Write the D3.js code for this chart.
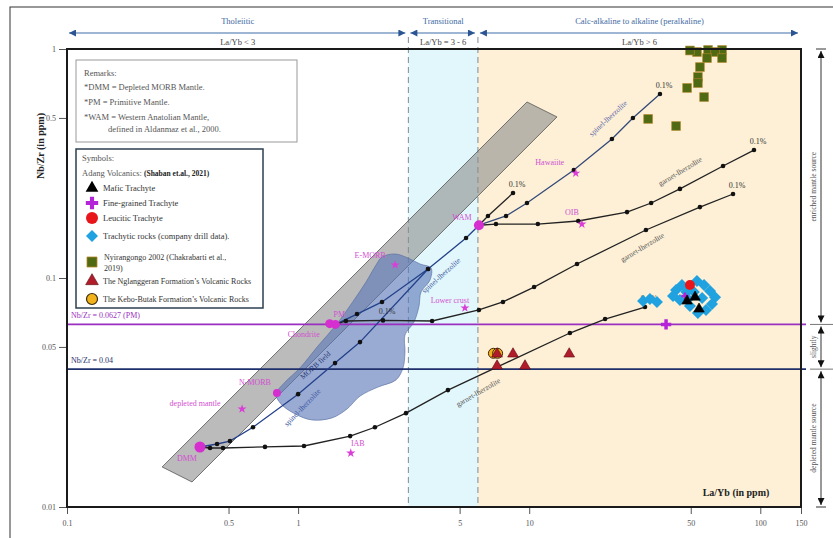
<!DOCTYPE html>
<html><head><meta charset="utf-8">
<script src="https://cdn.jsdelivr.net/npm/d3@7"></script>
<style>
body{margin:0;background:#fff;}
svg{display:block;font-family:"Liberation Serif","Times New Roman",serif;}
</style></head><body>
<svg id="chart" width="833" height="538"></svg>
<script>
// ---------- data (La/Yb, Nb/Zr) ----------
const xTicks = [0.1, 0.5, 1, 5, 10, 50, 100, 150];
const yTicks = [0.01, 0.05, 0.1, 0.5, 1];

const regimes = [
  {name: "Tholeiitic", rule: "La/Yb < 3", from: 0.1, to: 3},
  {name: "Transitional", rule: "La/Yb = 3 - 6", from: 3, to: 6},
  {name: "Calc-alkaline to alkaline (peralkaline)", rule: "La/Yb > 6", from: 6, to: 150}
];
const sourceZones = [
  {name: "enriched mantle source", from: 0.0627, to: 1},
  {name: "slightly", from: 0.04, to: 0.0627},
  {name: "depleted mantle source", from: 0.01, to: 0.04}
];
const refLines = [
  {value: 0.0627, label: "Nb/Zr = 0.0627 (PM)"},
  {value: 0.04, label: "Nb/Zr = 0.04"}
];

// MORB–OIB array band and MORB field outline
const arrayBand = [[0.258, 0.01496], [0.3475, 0.01286], [13.19, 0.505], [9.78, 0.587]];
const morbField = [
  [2.174, 0.114], [2.307, 0.1235], [2.627, 0.1273], [2.989, 0.1223], [3.37, 0.1151],
  [3.76, 0.1106], [3.722, 0.098], [3.403, 0.0869], [3.336, 0.0754], [3.173, 0.0642],
  [2.901, 0.0564], [2.901, 0.0475], [2.844, 0.0405], [2.653, 0.0359], [2.217, 0.0334],
  [1.853, 0.0305], [1.628, 0.0268], [1.402, 0.0245], [1.148, 0.024], [0.9696, 0.0255],
  [0.8433, 0.0282], [0.8027, 0.0311], [0.8778, 0.0351], [1.019, 0.0405], [1.219, 0.0505],
  [1.459, 0.0623], [1.711, 0.0778], [1.967, 0.096]
];

// reference compositions
const refPoints = [
  {name: "DMM", la: 0.376, nb: 0.01828, mark: "dot"},
  {name: "depleted mantle", la: 0.572, nb: 0.0268, mark: "star"},
  {name: "N-MORB", la: 0.81, nb: 0.0315, mark: "dot"},
  {name: "IAB", la: 1.69, nb: 0.0172, mark: "star"},
  {name: "Chondrite", la: 1.37, nb: 0.0632, mark: "dot"},
  {name: "PM", la: 1.45, nb: 0.0627, mark: "dot"},
  {name: "E-MORB", la: 2.63, nb: 0.114, mark: "star"},
  {name: "Lower crust", la: 5.27, nb: 0.074, mark: "star"},
  {name: "WAM", la: 6.06, nb: 0.170, mark: "dot"},
  {name: "Hawaiite", la: 15.9, nb: 0.287, mark: "star"},
  {name: "OIB", la: 16.9, nb: 0.172, mark: "star"}
];

// melting curves
const curveDmmSpinel = [[0.376, 0.01828], [0.446, 0.01884], [0.507, 0.0194], [0.638, 0.0223], [1.0, 0.0311], [1.445, 0.0425], [1.853, 0.0525], [3.65, 0.1094]];
const curvePmSpinel = [[1.45, 0.0627], [1.798, 0.0696], [2.307, 0.0786], [3.65, 0.1094], [5.33, 0.1495], [6.06, 0.170]];
const curveWamSpinel = [[6.06, 0.170], [7.94, 0.1866], [9.78, 0.2126], [15.6, 0.2962], [22.8, 0.4045], [28.1, 0.4995], [36.8, 0.636]];
const curveWamShort = [[6.06, 0.170], [6.63, 0.1866], [8.51, 0.235]];
const curveWamGarnet = [[6.06, 0.170], [7.18, 0.172], [10.9, 0.172], [16.3, 0.1774], [26.5, 0.194], [33.7, 0.2126], [44.9, 0.245], [69.0, 0.3084], [93.9, 0.362]];
const curvePmGarnet = [[1.45, 0.0627], [1.61, 0.0649], [2.33, 0.0653], [3.80, 0.0649], [6.06, 0.0725], [7.70, 0.0786], [10.5, 0.0913], [16.1, 0.1151], [32.0, 0.162], [54.8, 0.204], [76.2, 0.2327]];
const curveDmmGarnet = [[0.376, 0.01828], [0.416, 0.0181], [0.473, 0.0181], [0.719, 0.0183], [1.06, 0.01847], [1.68, 0.0204], [2.15, 0.0223], [2.93, 0.0257], [4.45, 0.0324], [15.0, 0.0575], [21.3, 0.0662], [31.7, 0.0747]];
const meltEnds = [[36.8, 0.636], [8.51, 0.235], [93.9, 0.362], [76.2, 0.2327], [2.33, 0.0653], [31.7, 0.0747]];

// samples
const mafic = [[48.2, 0.0793], [52.2, 0.0825], [54.3, 0.0732]];
const fineGrained = [[39.1, 0.0627], [47.2, 0.0834]];
const leucitic = [[49.6, 0.0932]];
const drill = [
  [31.1, 0.0793], [33.3, 0.0809], [35.7, 0.0785], [43.2, 0.0886], [45.8, 0.0932],
  [53.2, 0.097], [57.1, 0.0932], [60.6, 0.0877], [63.7, 0.0825], [61.8, 0.077],
  [58.2, 0.0725], [53.7, 0.0703], [49.6, 0.0754], [44.9, 0.0801], [41.9, 0.0834],
  [47.9, 0.0868], [51.6, 0.0868], [56.0, 0.0817], [48.7, 0.0809]
];
const nyiragongo = [
  [53.2, 0.97], [59.4, 0.99], [68.3, 0.99], [63.7, 0.97], [49.6, 0.985], [58.8, 0.913],
  [68.3, 0.913], [54.8, 0.834], [53.7, 0.755], [53.7, 0.71], [48.2, 0.676],
  [57.1, 0.617], [32.7, 0.495], [43.2, 0.461]
];
const nglanggeran = [[7.26, 0.0466], [8.51, 0.0466], [14.9, 0.0466], [7.26, 0.0413], [9.59, 0.0413]];
const keboButak = [[7.0, 0.0469], [7.3, 0.0469]];

// ---------- drawing ----------
const svg = d3.select("#chart");
const x = d3.scaleLog().domain([0.1, 150]).range([67, 801]);
const y = d3.scaleLog().domain([0.01, 1]).range([507, 49]);
const P = d => [x(d[0]), y(d[1])];
const magenta = "#d24fd2";
const navy = "#23418a";

const defs = svg.append("defs");
function arrowMarker(id, color, w, h) {
  defs.append("marker").attr("id", id).attr("viewBox", "0 0 10 10")
    .attr("refX", 10).attr("refY", 5).attr("markerWidth", w).attr("markerHeight", h)
    .attr("markerUnits", "userSpaceOnUse").attr("orient", "auto-start-reverse")
    .append("path").attr("d", "M0,0L10,5L0,10Z").attr("fill", color);
}
arrowMarker("hdr", "#2a5592", 9, 7);
arrowMarker("blk", "#111", 8, 7);
defs.append("clipPath").attr("id", "plotclip").append("rect")
  .attr("x", 67).attr("y", 49).attr("width", 734).attr("height", 458);

// outer frame
svg.append("rect").attr("x", 10).attr("y", 7).attr("width", 900).attr("height", 600)
  .attr("fill", "none").attr("stroke", "#333").attr("stroke-width", 1);

// regime shading
svg.append("rect").attr("x", x(3)).attr("y", y(1)).attr("width", x(6) - x(3)).attr("height", y(0.01) - y(1)).attr("fill", "#e2f7fb");
svg.append("rect").attr("x", x(6)).attr("y", y(1)).attr("width", x(150) - x(6)).attr("height", y(0.01) - y(1)).attr("fill", "#fdf0d6");

// header
regimes.forEach(r => {
  const x0 = x(r.from), x1 = x(r.to), cx = (x0 + x1) / 2;
  svg.append("line").attr("x1", x0 + 2).attr("x2", x1 - 3).attr("y1", 33).attr("y2", 33)
    .attr("stroke", "#3e6fa8").attr("stroke-width", 1.2)
    .attr("marker-start", "url(#hdr)").attr("marker-end", "url(#hdr)");
  svg.append("text").attr("x", cx).attr("y", 24).attr("text-anchor", "middle")
    .attr("font-size", 8.5).attr("fill", "#3f6aa3").text(r.name);
  svg.append("text").attr("x", cx).attr("y", 45).attr("text-anchor", "middle")
    .attr("font-size", 8.5).attr("fill", "#444").text(r.rule);
});

// boundary dashed lines
[3, 6].forEach(v => {
  svg.append("line").attr("x1", x(v)).attr("x2", x(v)).attr("y1", 37).attr("y2", y(0.01))
    .attr("stroke", "#7d8c96").attr("stroke-width", 1).attr("stroke-dasharray", "6,4");
});

const plot = svg.append("g").attr("clip-path", "url(#plotclip)");

// array band and MORB field
plot.append("path").attr("d", d3.line()(arrayBand.map(P)) + "Z")
  .attr("fill", "#8a8a8a").attr("fill-opacity", 0.58).attr("stroke", "#555").attr("stroke-width", 0.8);
plot.append("path").attr("d", d3.line().curve(d3.curveCatmullRomClosed)(morbField.map(P)))
  .attr("fill", "#5a78b8").attr("fill-opacity", 0.62).attr("stroke", "#50689e").attr("stroke-width", 0.6);

// reference lines
const refColors = ["#9a2fc0", "#1f2f6b"];
refLines.forEach((r, i) => {
  svg.append("line").attr("x1", x(0.1)).attr("x2", 806).attr("y1", y(r.value)).attr("y2", y(r.value))
    .attr("stroke", refColors[i]).attr("stroke-width", 1.8);
  svg.append("text").attr("x", x(0.1) + 4).attr("y", y(r.value) - 6).attr("font-size", 8)
    .attr("fill", refColors[i]).text(r.label);
});

// melting curves
const lineGen = d3.line().x(d => x(d[0])).y(d => y(d[1]));
const curves = [
  {data: curveDmmSpinel, color: navy},
  {data: curvePmSpinel, color: navy},
  {data: curveWamSpinel, color: "#34497a"},
  {data: curveWamShort, color: "#222"},
  {data: curveWamGarnet, color: "#222"},
  {data: curvePmGarnet, color: "#222"},
  {data: curveDmmGarnet, color: "#222"}
];
curves.forEach(c => {
  svg.append("path").attr("d", lineGen(c.data)).attr("fill", "none")
    .attr("stroke", c.color).attr("stroke-width", 1.3);
  svg.selectAll(null).data(c.data.slice(1)).enter().append("circle")
    .attr("cx", d => x(d[0])).attr("cy", d => y(d[1])).attr("r", 2.3).attr("fill", "#111");
});
meltEnds.forEach(d => {
  svg.append("text").attr("x", x(d[0]) + 4).attr("y", y(d[1]) - 6).attr("font-size", 8)
    .attr("text-anchor", "middle").attr("fill", "#333").text("0.1%");
});

// curve labels
const curveLabels = [
  {text: "spinel-lherzolite", at: [21.9, 0.4995], angle: -43, color: "#5a64a8"},
  {text: "garnet-lherzolite", at: [44.9, 0.2933], angle: -31, color: "#555"},
  {text: "garnet-lherzolite", at: [30.8, 0.1366], angle: -31, color: "#555"},
  {text: "garnet-lherzolite", at: [6.0, 0.0318], angle: -30, color: "#555"},
  {text: "spinel-lherzolite", at: [4.15, 0.103], angle: -42, color: "#3a55a0"},
  {text: "MORB field", at: [1.184, 0.0417], angle: -42, color: "#26336e"},
  {text: "spinel-lherzolite", at: [1.04, 0.0273], angle: -46, color: "#3a55a0"}
];
curveLabels.forEach(l => {
  svg.append("text").attr("transform", `translate(${x(l.at[0])},${y(l.at[1])}) rotate(${l.angle})`)
    .attr("text-anchor", "middle").attr("dy", 3).attr("font-size", 7.5).attr("fill", l.color).text(l.text);
});

// reference compositions
const labelOffset = {
  "DMM": [-13, 14], "depleted mantle": [-47, -3], "N-MORB": [-22, -8], "IAB": [7, -7],
  "Chondrite": [-26, 13], "PM": [4, -7], "E-MORB": [-25, -7], "Lower crust": [-15, -5],
  "WAM": [-17, -5], "Hawaiite": [-26, -8], "OIB": [-10, -9]
};
const dotR = {"DMM": 5.5, "N-MORB": 4, "Chondrite": 4.5, "PM": 4.5, "WAM": 5};
refPoints.forEach(p => {
  const px = x(p.la), py = y(p.nb);
  if (p.mark === "dot") {
    svg.append("circle").attr("cx", px).attr("cy", py).attr("r", dotR[p.name]).attr("fill", "#d62fd0");
  } else {
    svg.append("path").attr("d", d3.symbol(d3.symbolStar, 26)()).attr("transform", `translate(${px},${py})`)
      .attr("fill", "#d93fd6");
  }
  const o = labelOffset[p.name];
  svg.append("text").attr("x", px + o[0]).attr("y", py + o[1]).attr("text-anchor", "middle")
    .attr("font-size", 8).attr("fill", magenta).text(p.name);
});

// sample symbols
const sym = {
  triangle: s => d3.symbol(d3.symbolTriangle, s)(),
  cross: s => d3.symbol(d3.symbolCross, s)(),
  square: s => d3.symbol(d3.symbolSquare, s)()
};
function drawTri(g, data, size, fill, stroke) {
  g.selectAll(null).data(data).enter().append("path").attr("d", sym.triangle(size))
    .attr("transform", d => `translate(${x(d[0])},${y(d[1])})`)
    .attr("fill", fill).attr("stroke", stroke).attr("stroke-width", 0.6);
}
const samples = svg.append("g");
samples.selectAll(null).data(drill).enter().append("path").attr("d", sym.square(72))
  .attr("transform", d => `translate(${x(d[0])},${y(d[1])}) rotate(45)`).attr("fill", "#1fa2df");
samples.selectAll(null).data(leucitic).enter().append("circle")
  .attr("cx", d => x(d[0])).attr("cy", d => y(d[1])).attr("r", 5).attr("fill", "#e8161b");
samples.selectAll(null).data(fineGrained).enter().append("path").attr("d", (d, i) => sym.cross(i === 0 ? 60 : 30))
  .attr("transform", d => `translate(${x(d[0])},${y(d[1])})`).attr("fill", "#b424d8");
drawTri(samples, mafic, 48, "#000", "#000");
samples.selectAll(null).data(keboButak).enter().append("circle")
  .attr("cx", d => x(d[0])).attr("cy", d => y(d[1])).attr("r", 5)
  .attr("fill", "#f2b21c").attr("stroke", "#3a2a10").attr("stroke-width", 1);
drawTri(samples, nglanggeran, 50, "#b01c2a", "#5a0c10");
samples.selectAll(null).data(nyiragongo).enter().append("path").attr("d", sym.square(78))
  .attr("transform", d => `translate(${x(d[0])},${y(d[1])})`)
  .attr("fill", "#4f6a12").attr("stroke", "#b8862a").attr("stroke-width", 0.6);

// axes
const yAxis = svg.append("g").attr("transform", `translate(${x(0.1)},0)`)
  .call(d3.axisLeft(y).tickValues(yTicks).tickFormat(d3.format("~g")).tickSize(8).tickPadding(3));
const xAxis = svg.append("g").attr("transform", `translate(0,${y(0.01)})`)
  .call(d3.axisBottom(x).tickValues(xTicks).tickFormat(d3.format("~g")).tickSize(7).tickPadding(6));
[yAxis, xAxis].forEach(a => {
  a.select(".domain").remove();
  a.selectAll("line").attr("stroke", "#555");
  a.selectAll("text").attr("font-family", "Liberation Serif, serif").attr("font-size", 8).attr("fill", "#555");
});

// plot border
svg.append("rect").attr("x", x(0.1)).attr("y", y(1)).attr("width", x(150) - x(0.1)).attr("height", y(0.01) - y(1))
  .attr("fill", "none").attr("stroke", "#1a1a1a").attr("stroke-width", 2);

// axis titles
svg.append("text").attr("transform", "translate(44,146) rotate(-90)").attr("text-anchor", "middle")
  .attr("font-size", 10).attr("font-weight", "bold").attr("fill", "#222").text("Nb/Zr (in ppm)");
svg.append("text").attr("x", 736).attr("y", 496).attr("text-anchor", "middle")
  .attr("font-size", 10).attr("font-weight", "bold").attr("fill", "#222").text("La/Yb (in ppm)");

// source annotation on the right
const sx = 821;
sourceZones.forEach(z => {
  const ya = y(z.to), yb = y(z.from);
  svg.append("line").attr("x1", sx).attr("x2", sx).attr("y1", ya + 2).attr("y2", yb - 2)
    .attr("stroke", "#333").attr("stroke-width", 1)
    .attr("marker-start", "url(#blk)").attr("marker-end", "url(#blk)");
  svg.append("text").attr("transform", `translate(${sx - 5},${(ya + yb) / 2}) rotate(-90)`)
    .attr("text-anchor", "middle").attr("font-size", 7.5).attr("fill", "#555").text(z.name);
});
[1, 0.01].forEach(v => svg.append("line").attr("x1", sx - 5).attr("x2", sx + 5).attr("y1", y(v)).attr("y2", y(v)).attr("stroke", "#333"));
refLines.forEach(r => svg.append("line").attr("x1", sx - 11).attr("x2", 833).attr("y1", y(r.value)).attr("y2", y(r.value)).attr("stroke", "#777"));

// remarks box
const rem = svg.append("g");
rem.append("rect").attr("x", 76).attr("y", 60).attr("width", 221).attr("height", 82)
  .attr("fill", "#fff").attr("stroke", "#999").attr("stroke-width", 1);
const remarks = [
  ["Remarks:", 84, 76], ["*DMM = Depleted MORB Mantle.", 84, 90], ["*PM = Primitive Mantle.", 84, 105],
  ["*WAM = Western Anatolian Mantle,", 84, 120], ["defined in Aldanmaz et al., 2000.", 108, 132]
];
remarks.forEach(r => rem.append("text").attr("x", r[1]).attr("y", r[2]).attr("font-size", 8.5).attr("fill", "#555").text(r[0]));

// symbols legend
const leg = svg.append("g");
leg.append("rect").attr("x", 76).attr("y", 149).attr("width", 187).attr("height", 159)
  .attr("fill", "#fff").attr("stroke", "#2c3e50").attr("stroke-width", 1.5);
leg.append("text").attr("x", 82).attr("y", 161).attr("font-size", 8.5).attr("fill", "#555").text("Symbols:");
const adang = leg.append("text").attr("x", 82).attr("y", 176).attr("font-size", 8.5).attr("fill", "#555");
adang.append("tspan").text("Adang Volcanics: ");
adang.append("tspan").attr("font-size", 7.5).attr("font-weight", "bold").attr("fill", "#222").text("(Shaban et.al., 2021)");
const legendRows = [
  {label: "Mafic Trachyte", draw: g => g.append("path").attr("d", sym.triangle(70)).attr("fill", "#000")},
  {label: "Fine-grained Trachyte", draw: g => g.append("path").attr("d", sym.cross(85)).attr("fill", "#b424d8")},
  {label: "Leucitic Trachyte", draw: g => g.append("circle").attr("r", 6).attr("fill", "#e8161b")},
  {label: "Trachytic rocks (company drill data).", draw: g => g.append("path").attr("d", sym.square(72)).attr("transform", "rotate(45)").attr("fill", "#1fa2df")},
  {label: ["Nyirangongo 2002 (Chakrabarti et al.,", "2019)"], draw: g => g.append("path").attr("d", sym.square(100)).attr("fill", "#4f6a12").attr("stroke", "#b8862a").attr("stroke-width", 0.8)},
  {label: "The Nglanggeran Formation\u2019s Volcanic Rocks", draw: g => g.append("path").attr("d", sym.triangle(70)).attr("fill", "#b01c2a").attr("stroke", "#5a0c10").attr("stroke-width", 0.6)},
  {label: "The Kebo-Butak Formation\u2019s Volcanic Rocks", draw: g => g.append("circle").attr("r", 5.5).attr("fill", "#f2b21c").attr("stroke", "#3a2a10").attr("stroke-width", 1.2)}
];
const rowY = [188, 203, 218, 236, 262, 281, 299];
legendRows.forEach((r, i) => {
  const g = leg.append("g").attr("transform", `translate(92,${rowY[i]})`);
  r.draw(g);
  if (Array.isArray(r.label)) {
    leg.append("text").attr("x", 104).attr("y", rowY[i] - 2).attr("font-size", 8).attr("fill", "#333").text(r.label[0]);
    leg.append("text").attr("x", 104).attr("y", rowY[i] + 9).attr("font-size", 8).attr("fill", "#333").text(r.label[1]);
  } else {
    leg.append("text").attr("x", 103).attr("y", rowY[i] + 3).attr("font-size", i >= 5 ? 8 : 8.5).attr("fill", "#333").text(r.label);
  }
});
</script>
</body></html>
